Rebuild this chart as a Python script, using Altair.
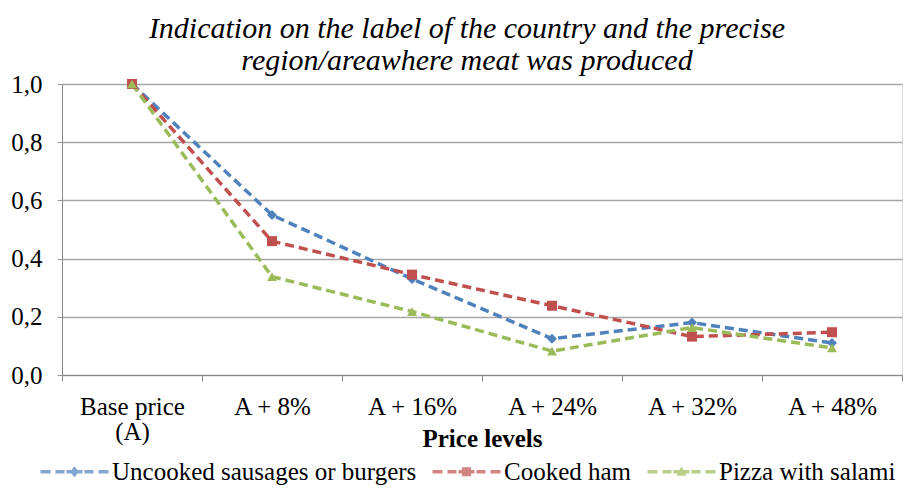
import altair as alt
import pandas as pd

levels = ["Base price (A)", "A + 8%", "A + 16%", "A + 24%", "A + 32%", "A + 48%"]
series = ["Uncooked sausages or burgers", "Cooked ham", "Pizza with salami"]
uncooked = [1.0, 0.55, 0.33, 0.125, 0.18, 0.11]
ham = [1.0, 0.46, 0.345, 0.238, 0.132, 0.147]
pizza = [1.0, 0.338, 0.218, 0.082, 0.163, 0.093]
colors = ["#4F81BD", "#C0504D", "#9BBB59"]
shapes = ["diamond", "square", "triangle-up"]

rows = []
for name, vals in zip(series, [uncooked, ham, pizza]):
    for lv, v in zip(levels, vals):
        rows.append({"level": lv, "series": name, "kind": name, "value": v})
df = pd.DataFrame(rows)

# legend glyphs: dashed line with the series marker in the middle
dash = ("M-3.4,-0.175h1.0v0.35h-1.0Z M-1.9,-0.175h0.9v0.35h-0.9Z "
        "M-0.8,-0.175h1.6v0.35h-1.6Z M1,-0.175h0.9v0.35h-0.9Z M2.4,-0.175h1.0v0.35h-1.0Z ")
legend_glyphs = [
    dash + "M0,-0.55L0.45,0L0,0.55L-0.45,0Z",
    dash + "M-0.45,-0.45h0.9v0.9h-0.9Z",
    dash + "M0,-0.55L0.5,0.4L-0.5,0.4Z",
]

FONT = "Liberation Serif"
FS = 25

x = alt.X(
    "level:N",
    sort=levels,
    bandPosition=0.5,
    scale=alt.Scale(type="band", paddingInner=0, paddingOuter=0),
    axis=alt.Axis(
        title="Price levels",
        titleFont=FONT, titleFontSize=FS, titleFontWeight="bold", titleColor="#000",
        titlePadding=-18,
        labelFont=FONT, labelFontSize=FS, labelColor="#000", labelAngle=0,
        labelPadding=13,
        labelExpr="datum.label == 'Base price (A)' ? ['Base price', '(A)'] : datum.label",
        tickBand="extent", tickSize=6, tickColor="#888", domainColor="#888",
        grid=False, labelLineHeight=25,
    ),
)
y = alt.Y(
    "value:Q",
    scale=alt.Scale(domain=[0, 1]),
    axis=alt.Axis(
        title=None, values=[0, 0.2, 0.4, 0.6, 0.8, 1.0],
        labelExpr="replace(format(datum.value, '.1f'), '.', ',')",
        labelFont=FONT, labelFontSize=FS, labelColor="#000", labelPadding=15,
        tickSize=5, tickColor="#999", domainColor="#888",
        grid=True, gridColor="#a6a6a6", gridWidth=1.5,
    ),
)

base = alt.Chart(df)
lines = base.mark_line(strokeWidth=3.5, strokeDash=[9, 5]).encode(
    x=x, y=y,
    color=alt.Color("series:N", scale=alt.Scale(domain=series, range=colors), legend=None),
)
points = base.mark_point(filled=True, size=100, opacity=1).encode(
    x=x, y=y,
    color=alt.Color("series:N", scale=alt.Scale(domain=series, range=colors), legend=None),
    shape=alt.Shape("kind:N", scale=alt.Scale(domain=series, range=shapes), legend=None),
)
leg_props = dict(
    title=None, orient="none", direction="horizontal", legendX=0, legendY=375,
    labelFont=FONT, labelFontSize=FS, labelColor="#000", labelLimit=0,
    symbolSize=400, symbolStrokeWidth=0, columnPadding=15, labelOffset=25,
)
legend_layer = base.transform_filter("datum.value > 5").mark_point(filled=True).encode(
    x=x, y=y,
    color=alt.Color("series:N", scale=alt.Scale(domain=series, range=colors),
                    legend=alt.Legend(**leg_props)),
    shape=alt.Shape("series:N", scale=alt.Scale(domain=series, range=legend_glyphs),
                    legend=alt.Legend(**leg_props)),
)

chart = alt.layer(lines, points, legend_layer).resolve_scale(
    color="independent", shape="independent"
).properties(
    width=840, height=291,
    padding={"left": 2, "top": 6, "right": 0, "bottom": 0},
    title=alt.TitleParams(
        text=["Indication on the label of the country and the precise",
              "region/areawhere meat was produced"],
        font=FONT, fontSize=30, fontStyle="italic", fontWeight="normal",
        color="#000", anchor="middle", lineHeight=32, offset=-4, dx=-15,
    ),
).configure_view(stroke=None).configure(background="white")

chart.save("out.html", embed_options={"renderer": "svg", "actions": False})
